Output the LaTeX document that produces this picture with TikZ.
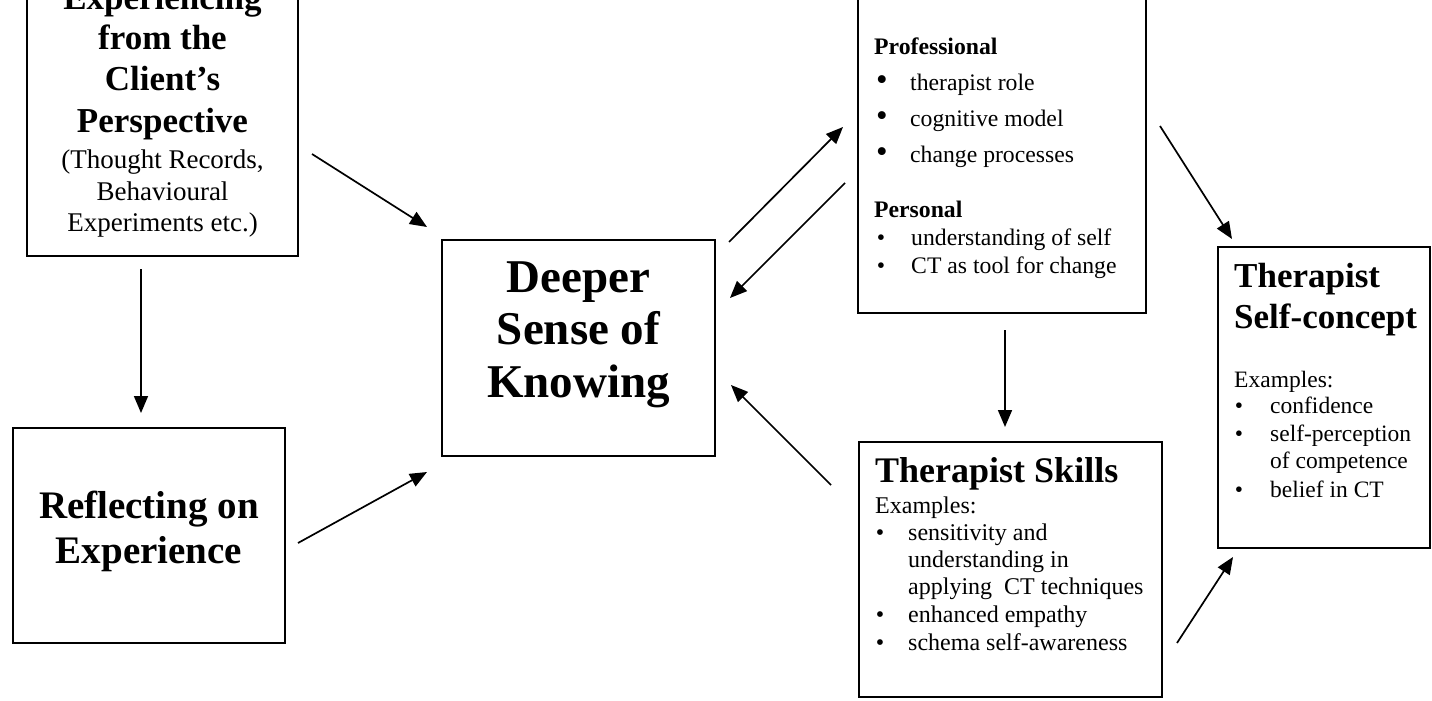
\documentclass[tikz,border=0pt]{standalone}
\usepackage{fontspec}
\setmainfont{Liberation Serif}
\usetikzlibrary{arrows.meta}
\begin{document}
\begin{tikzpicture}[x=1pt,y=-1pt,
  box/.style={draw, line width=1.7pt, inner sep=0pt, outer sep=0pt, anchor=north west},
  arr/.style={line width=1.7pt, -{Triangle[length=17pt,width=14pt]}},
  cb/.style={inner sep=0pt, anchor=base, font=\bfseries\fontsize{#1}{#1}\selectfont},
  cr/.style={inner sep=0pt, anchor=base, font=\fontsize{#1}{#1}\selectfont},
  lb/.style={inner sep=0pt, anchor=base west, font=\bfseries\fontsize{#1}{#1}\selectfont},
  lr/.style={inner sep=0pt, anchor=base west, font=\fontsize{#1}{#1}\selectfont},
  bul/.style={inner sep=0pt, anchor=base, font=\fontsize{#1}{#1}\selectfont}
]
\clip (0,0) rectangle (1432,701);
\fill[white] (0,0) rectangle (1432,701);

% boxes
\node[box, minimum width=271pt, minimum height=306pt] (A) at (27,-50) {};
\node[box, minimum width=272pt, minimum height=215pt] (B) at (13,428) {};
\node[box, minimum width=273pt, minimum height=216pt] (C) at (442,240) {};
\node[box, minimum width=288pt, minimum height=363pt] (D) at (858,-50) {};
\node[box, minimum width=303pt, minimum height=255pt] (E) at (859,442) {};
\node[box, minimum width=212pt, minimum height=301pt] (F) at (1218,247) {};

% Box A text
\node[cb=35] (a1) at (162.5,10) {Experiencing};
\node[cb=35] (a2) at (162.5,50) {from the};
\node[cb=35] (a3) at (162.5,91) {Client’s};
\node[cb=35] (a4) at (162.5,132) {Perspective};
\node[cr=27] (a5) at (162.5,168) {(Thought Records,};
\node[cr=27] (a6) at (162.5,200) {Behavioural};
\node[cr=27] (a7) at (162.5,231) {Experiments etc.)};

% Box B text
\node[cb=39] (b1) at (149,518) {Reflecting on};
\node[cb=39] (b2) at (149,563) {Experience};

% Box C text
\node[cb=47] (c1) at (578.5,292) {Deeper};
\node[cb=47] (c2) at (578.5,344) {Sense of};
\node[cb=47] (c3) at (578.5,397) {Knowing};

% Box D text
\node[lb=23.7] (d1) at (874,55) {Professional};
\node[bul=33] (d2b) at (882,90) {•};
\node[lr=23.7] (d2) at (910,90) {therapist role};
\node[bul=33] (d3b) at (882,126) {•};
\node[lr=23.7] (d3) at (910,126) {cognitive model};
\node[bul=33] (d4b) at (882,162) {•};
\node[lr=23.7] (d4) at (910,162) {change processes};
\node[lb=23.7] (d5) at (874,217) {Personal};
\node[bul=23.7] (d6b) at (881,245) {•};
\node[lr=23.7] (d6) at (911,245) {understanding of self};
\node[bul=23.7] (d7b) at (881,273) {•};
\node[lr=23.7] (d7) at (911,273) {CT as tool for change};

% Box E text
\node[lb=36] (e1) at (875,482) {Therapist Skills};
\node[lr=24] (e2) at (875,513) {Examples:};
\node[bul=24] (e3b) at (880,540) {•};
\node[lr=24] (e3) at (908,540) {sensitivity and};
\node[lr=24] (e4) at (908,567) {understanding in};
\node[lr=24] (e5) at (908,594) {applying\ \ CT techniques};
\node[bul=24] (e6b) at (880,622) {•};
\node[lr=24] (e6) at (908,622) {enhanced empathy};
\node[bul=24] (e7b) at (880,650) {•};
\node[lr=24] (e7) at (908,650) {schema self-awareness};

% Box F text
\node[lb=35] (f1) at (1234,287) {Therapist};
\node[lb=35] (f2) at (1234,328) {Self-concept};
\node[lr=23.5] (f3) at (1234,387) {Examples:};
\node[bul=23.5] (f4b) at (1239,413) {•};
\node[lr=23.5] (f4) at (1270,413) {confidence};
\node[bul=23.5] (f5b) at (1239,441) {•};
\node[lr=23.5] (f5) at (1270,441) {self-perception};
\node[lr=23.5] (f6) at (1270,468) {of competence};
\node[bul=23.5] (f7b) at (1239,497) {•};
\node[lr=23.5] (f7) at (1270,497) {belief in CT};

% arrow end points
\coordinate (pAC1) at (312,154);  \coordinate (pAC2) at (427,227);
\coordinate (pAB1) at (141,269);  \coordinate (pAB2) at (141,413);
\coordinate (pBC1) at (298,543);  \coordinate (pBC2) at (427,472);
\coordinate (pCD1) at (729,242);  \coordinate (pCD2) at (843,127);
\coordinate (pDC1) at (845,183);  \coordinate (pDC2) at (730,298);
\coordinate (pEC1) at (831,485);  \coordinate (pEC2) at (731,385);
\coordinate (pDE1) at (1005,330); \coordinate (pDE2) at (1005,427);
\coordinate (pDF1) at (1160,126); \coordinate (pDF2) at (1232,239);
\coordinate (pEF1) at (1177,643); \coordinate (pEF2) at (1233,557);

\draw[arr] (pAC1) -- (pAC2);
\draw[arr] (pAB1) -- (pAB2);
\draw[arr] (pBC1) -- (pBC2);
\draw[arr] (pCD1) -- (pCD2);
\draw[arr] (pDC1) -- (pDC2);
\draw[arr] (pEC1) -- (pEC2);
\draw[arr] (pDE1) -- (pDE2);
\draw[arr] (pDF1) -- (pDF2);
\draw[arr] (pEF1) -- (pEF2);
\end{tikzpicture}
\end{document}
